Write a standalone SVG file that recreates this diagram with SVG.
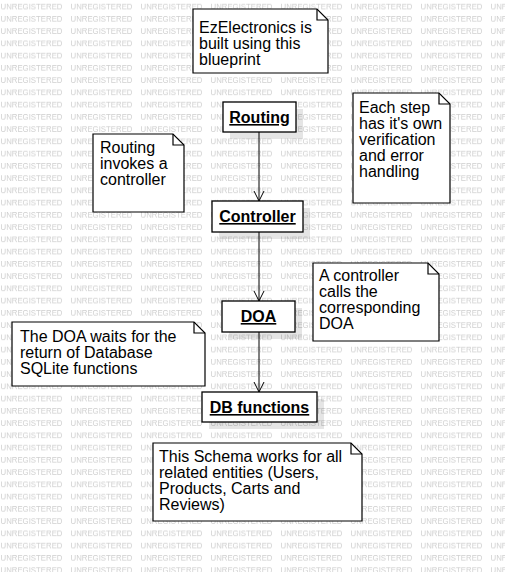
<svg xmlns="http://www.w3.org/2000/svg" width="505" height="572" viewBox="0 0 505 572">
<defs>
<style>
.wm{font-family:"Liberation Sans",Arial,sans-serif;font-size:8px;fill:#cfcfcf;}
.box{fill:#fff;stroke:#000;stroke-width:1.3;}
.shadow{fill:#000;opacity:0.1;}
.lbl{font-family:"Liberation Sans",Arial,sans-serif;font-size:16px;font-weight:bold;text-anchor:middle;text-decoration:underline;fill:#000;}
.note{fill:#fff;stroke:#000;stroke-width:1.2;}
.fold{fill:none;stroke:#000;stroke-width:1.2;}
.nt{font-family:"Liberation Sans",Arial,sans-serif;font-size:16px;fill:#000;}
.edge{fill:none;stroke:#000;stroke-width:1;}
</style>
<pattern id="wmp" patternUnits="userSpaceOnUse" x="0" y="0" width="70" height="12.25">
<text class="wm" x="0.5" y="9.5" textLength="62" lengthAdjust="spacingAndGlyphs">UNREGISTERED</text>
</pattern>
<marker id="arr" markerWidth="12" markerHeight="12" refX="10" refY="6" orient="auto" markerUnits="userSpaceOnUse">
<path d="M0,1 L10,6 L0,11" fill="none" stroke="#000" stroke-width="1"/>
</marker>
</defs>
<rect x="0" y="0" width="505" height="572" fill="#fff"/>
<rect x="0" y="0" width="505" height="572" fill="url(#wmp)"/>

<g id="connectors">
<line class="edge" x1="259" y1="132" x2="259" y2="201" marker-end="url(#arr)"/>
<line class="edge" x1="259" y1="232" x2="259" y2="301" marker-end="url(#arr)"/>
<line class="edge" x1="259" y1="332" x2="259" y2="392" marker-end="url(#arr)"/>
</g>

<g id="node-routing">
<rect class="shadow" x="230" y="109" width="73" height="30"/>
<rect class="box" x="223" y="102" width="73" height="30"/>
<text class="lbl" x="259.5" y="123">Routing</text>
</g>
<g id="node-controller">
<rect class="shadow" x="219" y="208" width="91" height="31"/>
<rect class="box" x="212" y="201" width="91" height="31"/>
<text class="lbl" x="257.5" y="222">Controller</text>
</g>
<g id="node-doa">
<rect class="shadow" x="229" y="308" width="73" height="31"/>
<rect class="box" x="222" y="301" width="73" height="31"/>
<text class="lbl" x="258.5" y="322">DOA</text>
</g>
<g id="node-db">
<rect class="shadow" x="209" y="399" width="115" height="30"/>
<rect class="box" x="202" y="392" width="115" height="30"/>
<text class="lbl" x="259.5" y="413">DB functions</text>
</g>

<g id="note-blueprint">
<path class="note" d="M193,9 H317 L328,20 V73 H193 Z"/>
<path class="fold" d="M317,9 V20 H328"/>
<text class="nt" x="199"><tspan x="199" y="33">EzElectronics is</tspan><tspan x="199" y="49">built using this</tspan><tspan x="199" y="65">blueprint</tspan></text>
</g>
<g id="note-each-step">
<path class="note" d="M353,93 H439 L450,104 V203 H353 Z"/>
<path class="fold" d="M439,93 V104 H450"/>
<text class="nt"><tspan x="359" y="113">Each step</tspan><tspan x="359" y="129">has it's own</tspan><tspan x="359" y="145">verification</tspan><tspan x="359" y="161">and error</tspan><tspan x="359" y="177">handling</tspan></text>
</g>
<g id="note-routing">
<path class="note" d="M93,134 H173 L184,145 V212 H93 Z"/>
<path class="fold" d="M173,134 V145 H184"/>
<text class="nt"><tspan x="100" y="153">Routing</tspan><tspan x="100" y="169">invokes a</tspan><tspan x="100" y="185">controller</tspan></text>
</g>
<g id="note-controller">
<path class="note" d="M313,263 H428 L439,274 V341 H313 Z"/>
<path class="fold" d="M428,263 V274 H439"/>
<text class="nt"><tspan x="319" y="281">A controller</tspan><tspan x="319" y="297">calls the</tspan><tspan x="319" y="313">corresponding</tspan><tspan x="319" y="329">DOA</tspan></text>
</g>
<g id="note-doa">
<path class="note" d="M12,322 H194 L205,333 V386 H12 Z"/>
<path class="fold" d="M194,322 V333 H205"/>
<text class="nt"><tspan x="20" y="342">The DOA waits for the</tspan><tspan x="20" y="358">return of Database</tspan><tspan x="20" y="374">SQLite functions</tspan></text>
</g>
<g id="note-schema">
<path class="note" d="M153,443 H351 L362,454 V521 H153 Z"/>
<path class="fold" d="M351,443 V454 H362"/>
<text class="nt"><tspan x="159" y="462">This Schema works for all</tspan><tspan x="159" y="478">related entities (Users,</tspan><tspan x="159" y="494">Products, Carts and</tspan><tspan x="159" y="510">Reviews)</tspan></text>
</g>
</svg>
